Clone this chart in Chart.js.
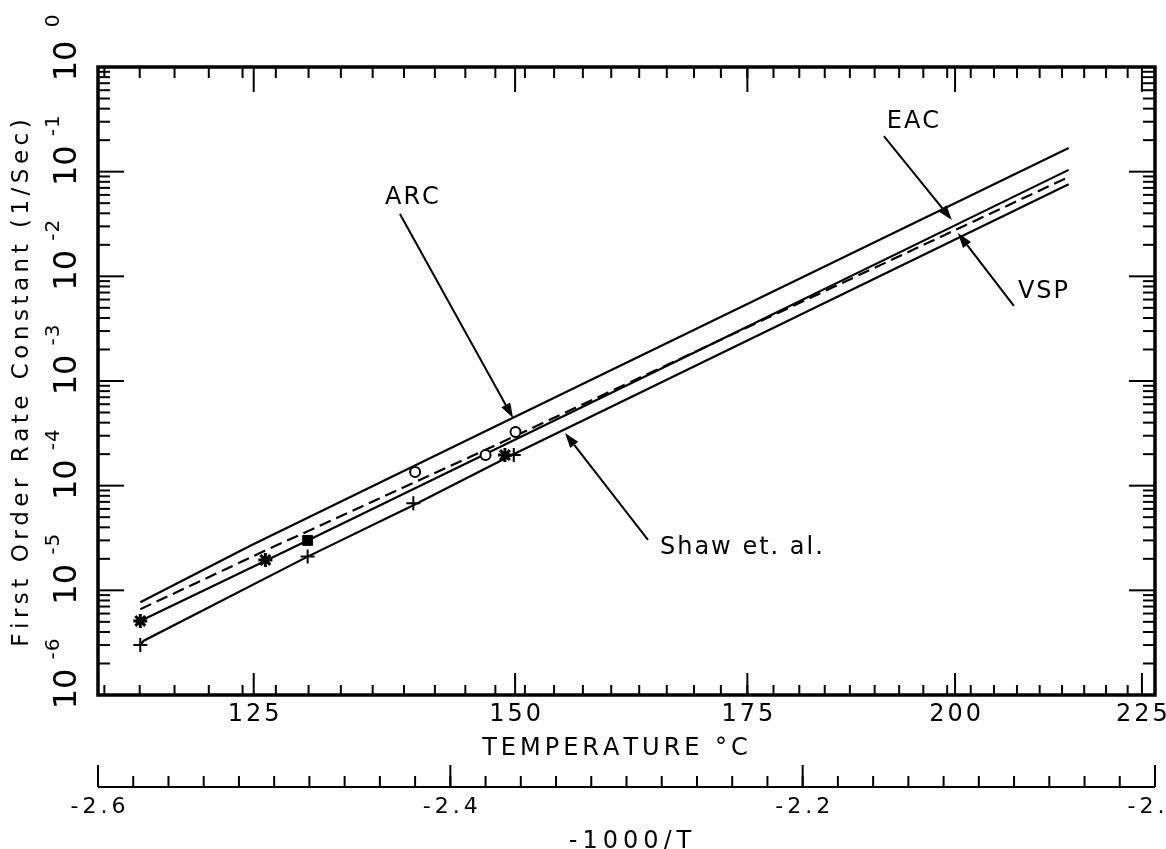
<!DOCTYPE html>
<html>
<head>
<meta charset="utf-8">
<script src="https://cdn.jsdelivr.net/npm/chart.js@4.4.0/dist/chart.umd.min.js"></script>
<style>
  html, body { margin: 0; padding: 0; background: #fff; }
  canvas { display: block; }
</style>
</head>
<body>
<canvas id="rateChart" width="1166" height="849"></canvas>
<script>
// x values are -1000/T (T in K), y values are rate constants in 1/sec
var arcX = [-2.576, -2.513, -2.365, -2.049];
var arcY = [7.7e-6, 2.7e-5, 4.4e-4, 0.168];

var dashX = [-2.576, -2.505, -2.380, -2.049];
var dashY = [6.6e-6, 2.4e-5, 2.2e-4, 0.089];

var midX = [-2.576, -2.481, -2.258, -2.049];
var midY = [5.1e-6, 3.0e-5, 2.0e-3, 0.104];

var shawX = [-2.576, -2.574, -2.481, -2.421, -2.365, -2.049];
var shawY = [3.0e-6, 3.3e-6, 2.1e-5, 6.5e-5, 1.96e-4, 0.076];

var starX = [-2.576, -2.505, -2.369];
var starY = [5.1e-6, 1.95e-5, 1.96e-4];

var squareX = [-2.481];
var squareY = [3.0e-5];

var plusX = [-2.576, -2.481, -2.421, -2.364];
var plusY = [3.0e-6, 2.1e-5, 6.8e-5, 1.96e-4];

var circleX = [-2.420, -2.380, -2.363];
var circleY = [1.35e-4, 1.96e-4, 3.26e-4];

// axis ticks
var tempTicks = [125, 150, 175, 200, 225];
var tempLabels = ['125', '150', '175', '200', '225'];
var invTicks = [-2.6, -2.4, -2.2, -2.0];
var invLabels = ['-2.6', '-2.4', '-2.2', '-2.'];
var yTicks = [1e-6, 1e-5, 1e-4, 1e-3, 1e-2, 1e-1, 1];
var yExponents = ['-6', '-5', '-4', '-3', '-2', '-1', '0'];

// arrow labels: text position, arrow tail, arrow tip (data values)
var notes = [
    { text: 'ARC', tx: -2.4218, ty: 0.056, fx: -2.4286, fy: 0.0394, px: -2.3644, py: 4.43e-4, align: 'center' },
    { text: 'EAC', tx: -2.1374, ty: 0.298, fx: -2.1539, fy: 0.219, px: -2.1153, py: 0.0345, align: 'center' },
    { text: 'VSP', tx: -2.0636, ty: 7.08e-3, fx: -2.0801, fy: 5.21e-3, px: -2.1119, py: 0.0259, align: 'center' },
    { text: 'Shaw et. al.', tx: -2.2810, ty: 2.54e-5, fx: -2.2878, fy: 3.03e-5, px: -2.3349, py: 3.18e-4, align: 'left' }
];

function pts(xs, ys) {
    return xs.map(function (v, i) { return { x: v, y: ys[i] }; });
}

function toInv(tc) {
    return -1000 / (tc + 273.15);
}

var FONT = '"DejaVu Sans", "Liberation Sans", sans-serif';

function spaced(ctx, str, x, y, gap, align) {
    var chars = str.split('');
    var total = 0;
    chars.forEach(function (c) { total += ctx.measureText(c).width; });
    total += gap * (chars.length - 1);
    var xx = x;
    if (align === 'center') xx = x - total / 2;
    if (align === 'right') xx = x - total;
    ctx.textAlign = 'left';
    ctx.textBaseline = 'middle';
    chars.forEach(function (c) {
        ctx.fillText(c, xx, y);
        xx += ctx.measureText(c).width + gap;
    });
    return total;
}

function seg(ctx, x1, y1, x2, y2) {
    ctx.beginPath();
    ctx.moveTo(x1, y1);
    ctx.lineTo(x2, y2);
    ctx.stroke();
}

var plotterAxes = {
    id: 'plotterAxes',
    afterDatasetsDraw: function (chart) {
        var ctx = chart.ctx, xs = chart.scales.x, ys = chart.scales.y;
        ctx.save();
        ctx.strokeStyle = '#000';
        ctx.fillStyle = '#000';
        ctx.lineWidth = 2;
        notes.forEach(function (n) {
            var x1 = xs.getPixelForValue(n.fx), y1 = ys.getPixelForValue(n.fy);
            var x2 = xs.getPixelForValue(n.px), y2 = ys.getPixelForValue(n.py);
            var ang = Math.atan2(y2 - y1, x2 - x1);
            var hl = 15, hw = 5;
            var bx = x2 - hl * Math.cos(ang), by = y2 - hl * Math.sin(ang);
            seg(ctx, x1, y1, bx, by);
            ctx.beginPath();
            ctx.moveTo(x2, y2);
            ctx.lineTo(bx + hw * Math.sin(ang), by - hw * Math.cos(ang));
            ctx.lineTo(bx - hw * Math.sin(ang), by + hw * Math.cos(ang));
            ctx.closePath();
            ctx.fill();
            ctx.font = '24px ' + FONT;
            spaced(ctx, n.text, xs.getPixelForValue(n.tx), ys.getPixelForValue(n.ty), 2, n.align);
        });
        ctx.restore();
    },
    afterDraw: function (chart) {
        var ctx = chart.ctx, a = chart.chartArea, xs = chart.scales.x, ys = chart.scales.y;
        ctx.save();
        ctx.strokeStyle = '#000';
        ctx.fillStyle = '#000';
        ctx.lineCap = 'butt';

        // frame
        ctx.lineWidth = 3.5;
        ctx.strokeRect(a.left, a.top, a.right - a.left, a.bottom - a.top);

        // temperature ticks, top and bottom, pointing inward
        ctx.lineWidth = 2;
        for (var t = 112; t <= 224; t += 3) {
            var px = xs.getPixelForValue(toInv(t));
            seg(ctx, px, a.bottom, px, a.bottom - 10);
            seg(ctx, px, a.top, px, a.top + 11);
        }
        ctx.font = '24px ' + FONT;
        tempTicks.forEach(function (tc, i) {
            var px = xs.getPixelForValue(toInv(tc));
            seg(ctx, px, a.bottom, px, a.bottom - 22);
            seg(ctx, px, a.top, px, a.top + 25);
            spaced(ctx, tempLabels[i], px, a.bottom + 20, 3, 'center');
        });
        spaced(ctx, 'TEMPERATURE \u00B0C', 615, a.bottom + 54, 4, 'center');

        // log y ticks, left and right
        yTicks.forEach(function (v, i) {
            var py = ys.getPixelForValue(v);
            seg(ctx, a.left, py, a.left + 26, py);
            seg(ctx, a.right, py, a.right - 26, py);
            if (i < yTicks.length - 1) {
                for (var m = 2; m <= 9; m++) {
                    var pm = ys.getPixelForValue(v * m);
                    seg(ctx, a.left, pm, a.left + 12, pm);
                    seg(ctx, a.right, pm, a.right - 12, pm);
                }
            }
            // rotated "10" with exponent
            ctx.save();
            ctx.translate(68, py - 6);
            ctx.rotate(-Math.PI / 2);
            ctx.font = '32px ' + FONT;
            ctx.textAlign = 'center';
            ctx.textBaseline = 'middle';
            ctx.fillText('10', 0, 0);
            ctx.font = '20px ' + FONT;
            spaced(ctx, yExponents[i], 40, -14, 1, 'center');
            ctx.restore();
        });

        // y title
        ctx.save();
        ctx.translate(22, 383);
        ctx.rotate(-Math.PI / 2);
        ctx.font = '23px ' + FONT;
        spaced(ctx, 'First Order Rate Constant (1/Sec)', 0, 0, 4.5, 'center');
        ctx.restore();

        // secondary -1000/T axis
        var axY = 787;
        ctx.lineWidth = 2;
        seg(ctx, a.left, axY, a.right, axY);
        for (var k = 0; k <= 30; k++) {
            var vx = xs.getPixelForValue(-2.6 + k * 0.02);
            seg(ctx, vx, axY, vx, axY - 11);
        }
        ctx.font = '22px ' + FONT;
        var half = 0;
        invLabels[0].split('').forEach(function (c) { half += ctx.measureText(c).width; });
        half = (half + 4 * 3) / 2;
        invTicks.forEach(function (v, i) {
            var vx = xs.getPixelForValue(v);
            seg(ctx, vx, axY, vx, axY - 22);
            spaced(ctx, invLabels[i], vx - half, axY + 20, 4, 'left');
        });
        ctx.font = '24px ' + FONT;
        spaced(ctx, '-1000/T', 630, 842, 5, 'center');

        ctx.restore();
    }
};

var lineStyle = { showLine: true, pointRadius: 0, borderColor: '#000', borderWidth: 2.2, tension: 0, fill: false, order: 1 };

var ctx = document.getElementById('rateChart').getContext('2d');

var rateChart = new Chart(ctx, {
    type: 'scatter',
    data: {
        datasets: [
            Object.assign({ label: 'ARC', data: pts(arcX, arcY) }, lineStyle),
            Object.assign({ label: 'Fit dashed', data: pts(dashX, dashY), borderDash: [12, 6] }, lineStyle),
            Object.assign({ label: 'Fit', data: pts(midX, midY) }, lineStyle),
            Object.assign({ label: 'Shaw et. al.', data: pts(shawX, shawY) }, lineStyle),
            { label: 'star', data: pts(starX, starY), pointStyle: 'star', pointRadius: 7, borderColor: '#000', borderWidth: 3, showLine: false, order: 0 },
            { label: 'square', data: pts(squareX, squareY), pointStyle: 'rect', pointRadius: 7, backgroundColor: '#000', borderColor: '#000', borderWidth: 1, showLine: false, order: 0 },
            { label: 'plus', data: pts(plusX, plusY), pointStyle: 'cross', pointRadius: 7, borderColor: '#000', borderWidth: 2, showLine: false, order: 0 },
            { label: 'circle', data: pts(circleX, circleY), pointStyle: 'circle', pointRadius: 5, backgroundColor: '#fff', borderColor: '#000', borderWidth: 2, showLine: false, order: 0 }
        ]
    },
    options: {
        responsive: false,
        maintainAspectRatio: false,
        animation: false,
        devicePixelRatio: 1,
        layout: { padding: { left: 98, right: 11, top: 67, bottom: 154 } },
        plugins: { legend: { display: false }, tooltip: { enabled: false } },
        scales: {
            x: { type: 'linear', min: -2.6, max: -2.0, display: false },
            y: { type: 'logarithmic', min: 1e-6, max: 1, display: false }
        }
    },
    plugins: [plotterAxes]
});
</script>
</body>
</html>
